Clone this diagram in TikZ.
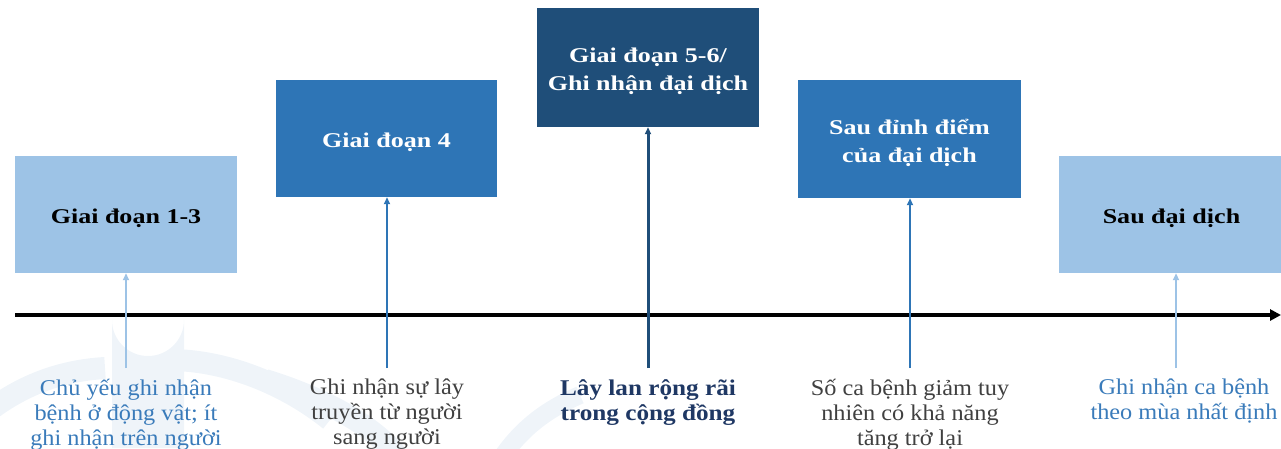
\documentclass[tikz,border=0pt]{standalone}
\usepackage{fontspec}
\setmainfont{Liberation Serif}
\newfontfamily\boxfont[FakeStretch=1.24]{Liberation Serif}
\newfontfamily\labfont[FakeStretch=1.08]{Liberation Serif}
\newfontfamily\labbfont[FakeStretch=1.12]{Liberation Serif}
\usetikzlibrary{arrows.meta}
\definecolor{lightb}{HTML}{9DC3E6}
\definecolor{midb}{HTML}{2E75B6}
\definecolor{darkb}{HTML}{1F4E79}
\definecolor{greytxt}{HTML}{404040}
\definecolor{navytxt}{HTML}{1F3864}
\definecolor{bluetxt}{HTML}{3A7BBA}
\definecolor{wm}{HTML}{EFF4F9}
\tikzset{
  stage/.style={draw=none, minimum width=#1, inner sep=0pt},
  stagetext/.style={inner sep=0pt, align=center, yshift=-3.5pt,
    font=\boxfont\fontsize{21}{28}\selectfont\bfseries},
  lab/.style={align=center, inner sep=0pt, anchor=north,
    font=\labfont\fontsize{22.5}{25}\selectfont},
  conn/.style={line width=#1, -{Triangle[length=7pt,width=6pt]}},
}
\begin{document}
\begin{tikzpicture}[x=1pt,y=-1pt]
\useasboundingbox (0,0) rectangle (1281,448);
% faint watermark
\begin{scope}
\fill[wm] (112,448) -- (112,320) arc[start angle=180,end angle=0,x radius=36,y radius=36] -- (184,448) -- cycle;
\draw[wm,line width=22pt] (-10,410) .. controls (30,380) and (70,370) .. (105,368);
\draw[wm,line width=22pt] (170,360) .. controls (220,360) and (280,380) .. (330,420);
\draw[wm,line width=22pt] (265,380) .. controls (330,400) and (380,430) .. (400,460);
\draw[wm,line width=18pt] (500,460) .. controls (520,430) and (545,410) .. (580,395);
\end{scope}
% stage boxes
\node[stage=222pt, minimum height=117pt, fill=lightb] (s1) at (126,214.5) {};
\node[stage=221pt, minimum height=117pt, fill=midb] (s2) at (386.5,138.5) {};
\node[stage=222pt, minimum height=119pt, fill=darkb] (s3) at (648,67.5) {};
\node[stage=223pt, minimum height=118pt, fill=midb] (s4) at (909.5,139) {};
\node[stage=225pt, minimum height=117pt, fill=lightb] (s5) at (1171.5,214.5) {};
\node[stagetext, text=black] (t1) at (s1.center) {Giai đoạn 1-3};
\node[stagetext, text=white] (t2) at (s2.center) {Giai đoạn 4};
\node[stagetext, text=white] (t3) at (s3.center) {Giai đoạn 5-6/\\Ghi nhận đại dịch};
\node[stagetext, text=white] (t4) at (s4.center) {Sau đỉnh điểm\\của đại dịch};
\node[stagetext, text=black] (t5) at (s5.center) {Sau đại dịch};
% time axis
\coordinate (a0) at (15,315);
\coordinate (a1) at (1281,315);
\draw[line width=4pt, -{Triangle[length=11pt,width=11pt]}] (a0) -- (a1);
% labels
\node[lab, text=bluetxt] (l1) at (126,379) {Chủ yếu ghi nhận\\bệnh ở động vật; ít\\ghi nhận trên người};
\node[lab, text=greytxt] (l2) at (387,379) {Ghi nhận sự lây\\truyền từ người\\sang người};
\node[lab, text=navytxt, font=\labbfont\fontsize{22.5}{25}\selectfont\bfseries] (l3) at (648,379) {Lây lan rộng rãi\\trong cộng đồng};
\node[lab, text=greytxt] (l4) at (910,379) {Số ca bệnh giảm tuy\\nhiên có khả năng\\tăng trở lại};
\node[lab, text=bluetxt] (l5) at (1184,379) {Ghi nhận ca bệnh\\theo mùa nhất định};
% connectors
\coordinate (c1) at (126,368);
\coordinate (c2) at (387,368);
\coordinate (c3) at (648,368);
\coordinate (c4) at (910,368);
\coordinate (c5) at (1176,368);
\draw[conn=2pt, lightb] (c1) -- (c1 |- s1.south);
\draw[conn=2pt, midb] (c2) -- (c2 |- s2.south);
\draw[conn=3pt, darkb] (c3) -- (c3 |- s3.south);
\draw[conn=2.5pt, midb] (c4) -- (c4 |- s4.south);
\draw[conn=2pt, lightb] (c5) -- (c5 |- s5.south);
\end{tikzpicture}
\end{document}
